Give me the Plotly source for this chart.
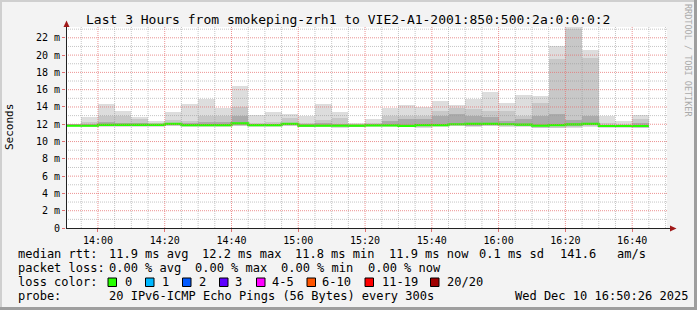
import plotly.graph_objects as go
import pandas as pd

# ---------------- data ----------------
day = "2025-12-10 "
bin_times = ["13:50", "13:55", "14:00", "14:05", "14:10", "14:15", "14:20", "14:25",
             "14:30", "14:35", "14:40", "14:45", "14:50", "14:55", "15:00", "15:05",
             "15:10", "15:15", "15:20", "15:25", "15:30", "15:35", "15:40", "15:45",
             "15:50", "15:55", "16:00", "16:05", "16:10", "16:15", "16:20", "16:25",
             "16:30", "16:35", "16:40"]
last_bin_end = "16:45"

# smoke layers (ms)
rtt_max = [12.05, 12.8, 14.3, 13.55, 12.8, 12.4, 13.4, 14.4, 14.95, 13.9, 16.45, 13.1,
           13.4, 13.2, 12.9, 14.3, 13.45, 12.2, 12.6, 13.9, 14.2, 14.05, 14.7, 14.2,
           14.9, 15.7, 14.5, 15.4, 15.3, 21.1, 23.2, 20.6, 12.9, 12.4, 13.1]
rtt_mid_hi = [12.0, 12.3, 13.0, 13.0, 12.6, 12.2, 12.5, 12.4, 13.0, 13.0, 14.0, 12.1,
              12.3, 12.7, 12.15, 12.5, 12.7, 12.05, 12.1, 13.0, 13.0, 13.0, 13.55, 13.9,
              13.75, 13.55, 13.5, 13.0, 14.45, 19.5, 23.0, 19.7, 12.1, 12.05, 12.6]
rtt_in_hi = [11.95, 12.0, 12.3, 12.2, 12.1, 12.05, 12.2, 12.1, 12.3, 12.3, 13.0, 12.0,
             12.05, 12.2, 12.0, 12.2, 12.0, 11.95, 11.95, 12.4, 12.6, 12.6, 12.9, 13.15,
             13.0, 12.8, 12.4, 12.6, 12.9, 13.2, 12.5, 12.9, 11.95, 11.9, 12.1]
rtt_median = [11.83, 11.83, 11.94, 11.94, 11.94, 11.94, 12.05, 11.9, 11.9, 11.9, 12.1, 11.9,
              11.9, 12.05, 11.85, 11.85, 11.85, 11.85, 11.87, 11.87, 11.82, 11.9, 11.9, 12.0,
              12.05, 12.05, 12.0, 11.95, 11.85, 11.9, 11.98, 12.05, 11.8, 11.8, 11.8]
rtt_in_lo = [11.8, 11.75, 11.85, 11.85, 11.85, 11.85, 11.95, 11.8, 11.8, 11.8, 11.95, 11.8,
             11.8, 11.95, 11.78, 11.78, 11.75, 11.78, 11.8, 11.8, 11.75, 11.75, 11.8, 11.9,
             11.85, 11.9, 11.9, 11.85, 11.75, 11.75, 11.85, 11.9, 11.72, 11.72, 11.7]
rtt_mid_lo = [11.75, 11.7, 11.8, 11.8, 11.8, 11.8, 11.85, 11.75, 11.75, 11.75, 11.85, 11.75,
              11.75, 11.85, 11.72, 11.72, 11.7, 11.72, 11.75, 11.75, 11.7, 11.7, 11.75, 11.8,
              11.8, 11.8, 11.8, 11.8, 11.6, 11.6, 11.7, 11.75, 11.65, 11.65, 11.6]
rtt_min = [11.7, 11.65, 11.7, 11.7, 11.7, 11.7, 11.75, 11.65, 11.7, 11.7, 11.75, 11.7,
           11.65, 11.75, 11.65, 11.65, 11.6, 11.65, 11.7, 11.7, 11.65, 11.6, 11.7, 11.75,
           11.7, 11.75, 11.7, 11.7, 11.55, 11.55, 11.6, 11.7, 11.6, 11.6, 11.55]

tick_labels = ["14:00", "14:20", "14:40", "15:00", "15:20", "15:40", "16:00", "16:20", "16:40"]
y_tick_values = [0, 2, 4, 6, 8, 10, 12, 14, 16, 18, 20, 22]

title_text = "Last 3 Hours from smokeping-zrh1 to VIE2-A1-2001:850:500:2a:0:0:0:2"
stat_rtt = ["median rtt:", "11.9 ms avg", "12.2 ms max", "11.8 ms min", "11.9 ms now",
            "0.1 ms sd", "141.6", "am/s"]
stat_loss = ["packet loss:", "0.00 % avg", "0.00 % max", "0.00 % min", "0.00 % now"]
loss_labels = ["0", "1", "2", "3", "4-5", "6-10", "11-19", "20/20"]
loss_colors = ["#26ff00", "#00b8ff", "#0059ff", "#5e00ff", "#ff00ff", "#ff5500", "#ff0000", "#a00000"]
probe_text = ["probe:", "20 IPv6-ICMP Echo Pings (56 Bytes) every 300s", "Wed Dec 10 16:50:26 2025"]

# ---------------- layout geometry ----------------
W, H = 697, 310
L, R, T, B = 66, 30, 27, 82
PW, PH = W - L - R, H - T - B


def px(x):
    return (x - L) / PW


def py(y):
    return (T + PH - y) / PH


x = pd.to_datetime([day + t for t in bin_times])
x_end = pd.to_datetime(day + last_bin_end)
x_start_range = pd.Timestamp(day + "13:50:26")
x_end_range = pd.Timestamp(day + "16:50:26")
BIN_MS = 300000

fig = go.Figure()

layers = [
    (rtt_min, rtt_max, "#dddddd"),
    (rtt_mid_lo, rtt_mid_hi, "#c8c8c8"),
    (rtt_in_lo, rtt_in_hi, "#ababab"),
]
for lo, hi, col in layers:
    fig.add_trace(go.Bar(
        x=x, y=[h - l for h, l in zip(hi, lo)], base=lo,
        width=BIN_MS, offset=0,
        marker=dict(color=col, line=dict(width=0)),
        hoverinfo="skip", showlegend=False,
    ))

fig.add_trace(go.Scatter(
    x=list(x) + [x_end], y=rtt_median + [rtt_median[-1]],
    mode="lines", line=dict(color="#26ff00", width=2.2, shape="hv"),
    hoverinfo="skip", showlegend=False,
))

mono = "DejaVu Sans Mono"
major_grid = "rgba(230,110,110,0.75)"
minor_grid = "rgba(150,150,150,0.55)"

shapes = []
# grid lines (above the smoke, like rrdtool)
for v in range(1, 24):
    shapes.append(dict(type="line", xref="paper", yref="y", x0=0, x1=1, y0=v, y1=v,
                       layer="above",
                       line=dict(color=major_grid if v % 2 == 0 else minor_grid, width=1, dash="1px,1px")))
t = pd.Timestamp(day + "13:55")
while t <= x_end_range:
    major = (t.minute % 20 == 0)
    shapes.append(dict(type="line", xref="x", yref="paper", x0=t, x1=t, y0=0, y1=1,
                       layer="above",
                       line=dict(color=major_grid if major else minor_grid, width=1, dash="1px,1px")))
    t += pd.Timedelta(minutes=5)

# axes lines + arrows
axis_col = "#222222"
arrow_col = "#a01818"
shapes.append(dict(type="line", xref="paper", yref="paper", x0=px(66.5), x1=px(66.5),
                   y0=py(228.5), y1=py(25), line=dict(color=axis_col, width=1), layer="above"))
shapes.append(dict(type="line", xref="paper", yref="paper", x0=px(66), x1=px(671),
                   y0=py(228.5), y1=py(228.5), line=dict(color=axis_col, width=1), layer="above"))
shapes.append(dict(type="path", xref="paper", yref="paper",
                   path=f"M {px(63.5)},{py(27)} L {px(69.5)},{py(27)} L {px(66.5)},{py(20.5)} Z",
                   fillcolor=arrow_col, line=dict(width=0), layer="above"))
shapes.append(dict(type="path", xref="paper", yref="paper",
                   path=f"M {px(670)},{py(225.5)} L {px(670)},{py(231.5)} L {px(676.5)},{py(228.5)} Z",
                   fillcolor=arrow_col, line=dict(width=0), layer="above"))

# 3D frame
shapes.append(dict(type="rect", xref="paper", yref="paper", x0=px(0), x1=px(W), y0=py(0), y1=py(2),
                   fillcolor="#cfcfcf", line=dict(width=0)))
shapes.append(dict(type="rect", xref="paper", yref="paper", x0=px(0), x1=px(2), y0=py(0), y1=py(H),
                   fillcolor="#cfcfcf", line=dict(width=0)))
shapes.append(dict(type="rect", xref="paper", yref="paper", x0=px(0), x1=px(W), y0=py(307), y1=py(H),
                   fillcolor="#9e9e9e", line=dict(width=0)))
shapes.append(dict(type="rect", xref="paper", yref="paper", x0=px(694), x1=px(W), y0=py(0), y1=py(H),
                   fillcolor="#9e9e9e", line=dict(width=0)))

annotations = []


def text(s, xp, yp, size=12, color="#000000", anchor="left", angle=0):
    annotations.append(dict(text=s, xref="paper", yref="paper", x=px(xp), y=py(yp),
                            xanchor=anchor, yanchor="middle", showarrow=False, textangle=angle,
                            font=dict(family=mono, size=size, color=color)))


text(title_text, 348, 19.5, size=13, anchor="center")
text("Seconds", 10, 127, size=11, anchor="center", angle=-90)
text("RRDTOOL / TOBI OETIKER", 688, 60, size=8.5, color="#aaaaaa", anchor="center", angle=90)

rtt_x = [16, 107, 200, 293, 387, 477, 558, 615]
for s, xp in zip(stat_rtt, rtt_x):
    text(s, xp, 254.3)
loss_x = [16, 107, 193, 279, 366]
for s, xp in zip(stat_loss, loss_x):
    text(s, xp, 268.3)
text("loss color:", 16, 282.3)
box_x = [108, 145.5, 182.5, 219.5, 256.5, 307, 365, 430.5]
lab_x = [123, 160, 197, 233, 270, 320, 380, 445]
for lab, col, bx, lx in zip(loss_labels, loss_colors, box_x, lab_x):
    shapes.append(dict(type="rect", xref="paper", yref="paper",
                       x0=px(bx), x1=px(bx + 8.5), y0=py(278), y1=py(286.5),
                       fillcolor=col, line=dict(color="#000000", width=1)))
    text(lab, lx, 282.3)
probe_x = [16, 107, 513]
for s, xp in zip(probe_text, probe_x):
    text(s, xp, 296.3)

fig.update_layout(
    width=W, height=H,
    margin=dict(l=L, r=R, t=T, b=B, pad=0),
    paper_bgcolor="#f3f3f3", plot_bgcolor="#ffffff",
    barmode="overlay", bargap=0,
    showlegend=False,
    shapes=shapes, annotations=annotations,
    xaxis=dict(
        type="date", range=[x_start_range, x_end_range],
        tickvals=[pd.Timestamp(day + s) for s in tick_labels], ticktext=tick_labels,
        showgrid=False, zeroline=False, showline=False,
        ticks="outside", ticklen=3, tickcolor="#e07070", tickwidth=1,
        tickfont=dict(family=mono, size=10, color="#000000"),
        fixedrange=True,
    ),
    yaxis=dict(
        range=[0, 23.25],
        tickvals=y_tick_values,
        ticktext=[("0" if v == 0 else f"{v} m") for v in y_tick_values],
        showgrid=False, zeroline=False, showline=False,
        ticks="outside", ticklen=3, tickcolor="#e07070", tickwidth=1,
        tickfont=dict(family=mono, size=10, color="#000000"),
        fixedrange=True,
    ),
)

fig.write_html("out.html")
